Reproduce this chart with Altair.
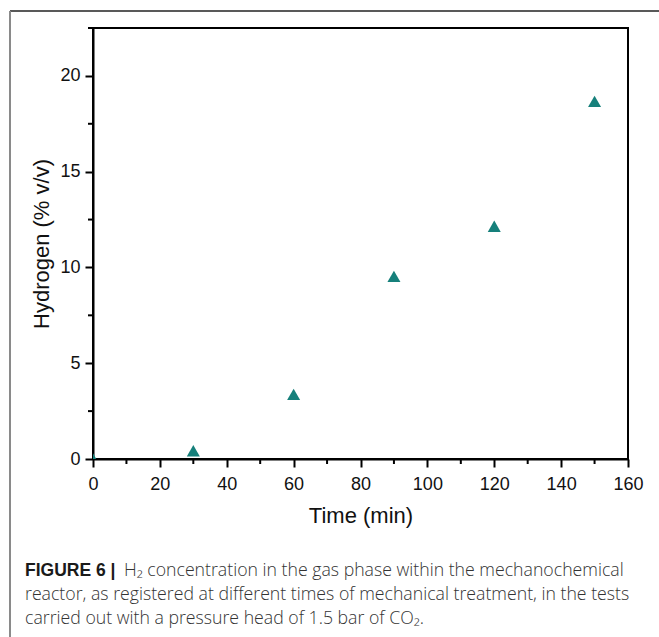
import altair as alt
import pandas as pd

# ---- data ----
time_min = [0, 30, 60, 90, 120, 150]
hydrogen = [0.0, 0.43, 3.37, 9.53, 12.15, 18.67]

x_ticks = [0, 20, 40, 60, 80, 100, 120, 140, 160]
x_minor = [10, 30, 50, 70, 90, 110, 130, 150]
y_ticks = [0, 5, 10, 15, 20]
y_minor = [2.5, 7.5, 12.5, 17.5, 22.5]

x_title = "Time (min)"
y_title = "Hydrogen (% v/v)"
caption_bold = "FIGURE 6 |"
caption_lines = [
    "H\u2082 concentration in the gas phase within the mechanochemical",
    "reactor, as registered at different times of mechanical treatment, in the tests",
    "carried out with a pressure head of 1.5 bar of CO\u2082.",
]

W, H = 535, 431
FONT = "Liberation Sans"
CAP_FONT = "Open Sans"
TEAL = "#16807b"

xscale = alt.Scale(domain=[0, 160], nice=False, zero=False)
yscale = alt.Scale(domain=[0, 22.5], nice=False, zero=False)
xaxis = alt.Axis(values=x_ticks, title=x_title, labelPadding=8, titlePadding=12, orient="bottom",
                 labelFlush=False, labelOverlap=False)
yaxis = alt.Axis(values=y_ticks, title=y_title, labelPadding=5, titlePadding=6, orient="left",
                 labelFlush=False, labelOverlap=False)

df = pd.DataFrame({"t": time_min, "h": hydrogen})

points = alt.Chart(df).mark_point(
    shape="triangle-up", filled=True, size=170, color=TEAL, opacity=1, strokeWidth=0, clip=True
).encode(
    x=alt.X("t:Q", scale=xscale, axis=xaxis),
    y=alt.Y("h:Q", scale=yscale, axis=yaxis),
)

minor_x = alt.Chart(pd.DataFrame({"v": x_minor})).mark_rule(color="black", strokeWidth=2).encode(
    x=alt.X("v:Q", scale=xscale, axis=xaxis),
    y=alt.value(H),
    y2=alt.value(H + 5),
)
minor_y = alt.Chart(pd.DataFrame({"v": y_minor})).mark_rule(color="black", strokeWidth=2).encode(
    y=alt.Y("v:Q", scale=yscale, axis=yaxis),
    x=alt.value(-5),
    x2=alt.value(0),
)

one = pd.DataFrame({"a": [0]})
# figure frame (top dark line, left grey line)
frame_top = alt.Chart(one).mark_rule(color="#222222", strokeWidth=1.5).encode(
    x=alt.value(-83), x2=alt.value(566), y=alt.value(-17)
)
frame_left = alt.Chart(one).mark_rule(color="#8a8a8a", strokeWidth=2).encode(
    x=alt.value(-83), y=alt.value(-17), y2=alt.value(609)
)

cap_kw = dict(font=CAP_FONT, fontSize=17.7, fontWeight=300, align="left", baseline="alphabetic")
cap_b = alt.Chart(one).mark_text(
    text=caption_bold, font=FONT, fontSize=17.5, fontWeight="bold", color="#1a1a1a",
    align="left", baseline="alphabetic"
).encode(x=alt.value(-68), y=alt.value(547.5))
cap1 = alt.Chart(one).mark_text(text=caption_lines[0], color="#333333", **cap_kw).encode(
    x=alt.value(31), y=alt.value(547.5)
)
cap2 = alt.Chart(one).mark_text(text=caption_lines[1], color="#333333", **cap_kw).encode(
    x=alt.value(-68), y=alt.value(571.5)
)
cap3 = alt.Chart(one).mark_text(text=caption_lines[2], color="#333333", **cap_kw).encode(
    x=alt.value(-68), y=alt.value(595.5)
)

chart = alt.layer(
    points, minor_x, minor_y, frame_top, frame_left, cap_b, cap1, cap2, cap3
).properties(
    width=W,
    height=H,
    padding={"left": 93, "top": 28, "right": 31, "bottom": 178},
    autosize=alt.AutoSizeParams(type="none"),
    background="white",
).configure_view(
    stroke="black", strokeWidth=2
).configure_axis(
    grid=False,
    domainColor="black",
    domainWidth=2,
    tickColor="black",
    tickWidth=2,
    tickSize=8,
    labelFont=FONT,
    labelFontSize=18,
    labelColor="#111111",
    titleFont=FONT,
    titleFontSize=22,
    titleFontWeight="normal",
    titleColor="#111111",
)

chart.save("out.html", embed_options={"renderer": "svg", "actions": False})
